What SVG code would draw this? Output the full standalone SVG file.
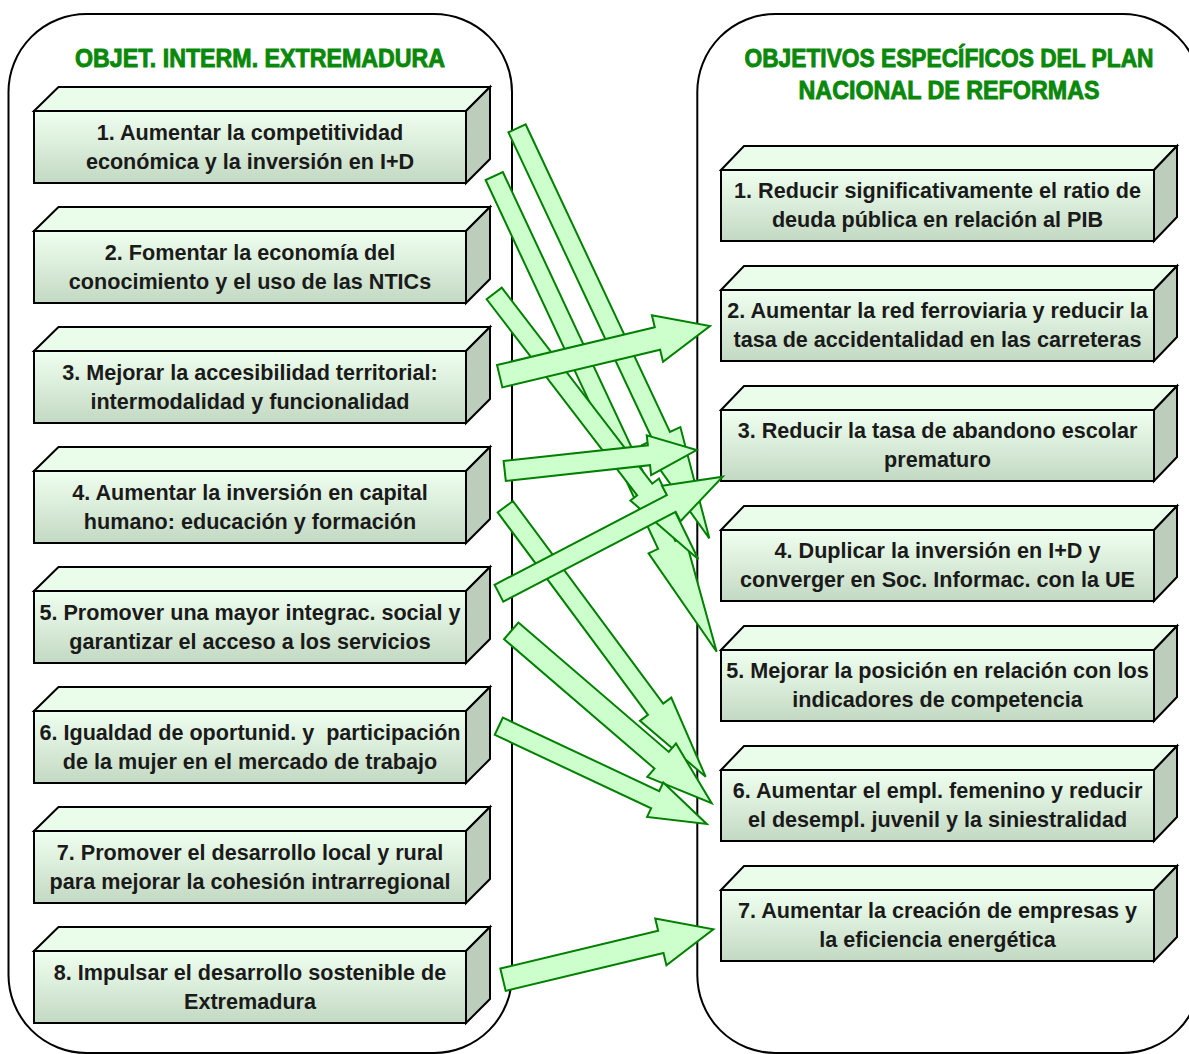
<svg xmlns="http://www.w3.org/2000/svg" xmlns:xlink="http://www.w3.org/1999/xlink" width="1189" height="1054" viewBox="0 0 1189 1054">
<defs>
<linearGradient id="gFront" x1="0" y1="0" x2="0" y2="1">
<stop offset="0" stop-color="#f0fff0"/>
<stop offset="1" stop-color="#c3d9c3"/>
</linearGradient>
<g id="lbox">
<polygon class="top" points="0,0 24.5,-24 456,-24 432,0"/>
<polygon class="side" points="432,0 456,-24 456,48 432,72"/>
<rect class="front" x="0" y="0" width="432" height="72"/>
</g>
<g id="rbox">
<polygon class="top" points="0,0 23,-24 456,-24 433,0"/>
<polygon class="side" points="433,0 456,-24 456,47 433,71"/>
<rect class="front" x="0" y="0" width="433" height="71"/>
</g>
</defs>
<style>
.container{fill:#ffffff;stroke:#000000;stroke-width:2}
.top{fill:#eafcea;stroke:#000000;stroke-width:2;stroke-linejoin:miter}
.side{fill:#bccdbc;stroke:#000000;stroke-width:2}
.front{fill:url(#gFront);stroke:#000000;stroke-width:2}
.title{font-family:"Liberation Sans Narrow","Liberation Sans",Arial,sans-serif;font-weight:bold;font-size:25.5px;fill:#0a880a;stroke:#0a880a;stroke-width:0.9;text-anchor:middle}
.lbl{font-family:"Liberation Sans",Arial,sans-serif;font-weight:bold;font-size:21.6px;fill:#1a1a1a;text-anchor:middle}
.arrow{fill:#ccffcc;stroke:#008000;stroke-width:2;stroke-linejoin:miter}
</style>
<rect width="1189" height="1054" fill="#ffffff"/>
<g id="container-left"><rect class="container" x="8.5" y="14" width="503.5" height="1039" rx="78" ry="78"/></g>
<g id="container-right"><rect class="container" x="697.3" y="14" width="503.5" height="1039" rx="78" ry="78"/></g>
<g id="title-left"><text class="title" x="260" y="66.5" textLength="370" lengthAdjust="spacingAndGlyphs">OBJET. INTERM. EXTREMADURA</text></g>
<g id="title-right">
<text class="title" x="949" y="66.5" textLength="409" lengthAdjust="spacingAndGlyphs">OBJETIVOS ESPECÍFICOS DEL PLAN</text>
<text class="title" x="949" y="99.3" textLength="301" lengthAdjust="spacingAndGlyphs">NACIONAL DE REFORMAS</text>
</g>
<g id="L1"><use href="#lbox" x="34" y="111"/><text class="lbl" x="250" y="140">1. Aumentar la competitividad</text><text class="lbl" x="250" y="169">económica y la inversión en I+D</text></g>
<g id="L2"><use href="#lbox" x="34" y="231"/><text class="lbl" x="250" y="260">2. Fomentar la economía del</text><text class="lbl" x="250" y="289">conocimiento y el uso de las NTICs</text></g>
<g id="L3"><use href="#lbox" x="34" y="351"/><text class="lbl" x="250" y="380">3. Mejorar la accesibilidad territorial:</text><text class="lbl" x="250" y="409">intermodalidad y funcionalidad</text></g>
<g id="L4"><use href="#lbox" x="34" y="471"/><text class="lbl" x="250" y="500">4. Aumentar la inversión en capital</text><text class="lbl" x="250" y="529">humano: educación y formación</text></g>
<g id="L5"><use href="#lbox" x="34" y="591"/><text class="lbl" x="250" y="620">5. Promover una mayor integrac. social y</text><text class="lbl" x="250" y="649">garantizar el acceso a los servicios</text></g>
<g id="L6"><use href="#lbox" x="34" y="711"/><text class="lbl" x="250" y="740" xml:space="preserve">6. Igualdad de oportunid. y  participación</text><text class="lbl" x="250" y="769">de la mujer en el mercado de trabajo</text></g>
<g id="L7"><use href="#lbox" x="34" y="831"/><text class="lbl" x="250" y="860">7. Promover el desarrollo local y rural</text><text class="lbl" x="250" y="889">para mejorar la cohesión intrarregional</text></g>
<g id="L8"><use href="#lbox" x="34" y="951"/><text class="lbl" x="250" y="980">8. Impulsar el desarrollo sostenible de</text><text class="lbl" x="250" y="1009">Extremadura</text></g>
<g id="R1"><use href="#rbox" x="721" y="170"/><text class="lbl" x="937.5" y="198">1. Reducir significativamente el ratio de</text><text class="lbl" x="937.5" y="227">deuda pública en relación al PIB</text></g>
<g id="R2"><use href="#rbox" x="721" y="290"/><text class="lbl" x="937.5" y="318">2. Aumentar la red ferroviaria y reducir la</text><text class="lbl" x="937.5" y="347">tasa de accidentalidad en las carreteras</text></g>
<g id="R3"><use href="#rbox" x="721" y="410"/><text class="lbl" x="937.5" y="438">3. Reducir la tasa de abandono escolar</text><text class="lbl" x="937.5" y="467">prematuro</text></g>
<g id="R4"><use href="#rbox" x="721" y="530"/><text class="lbl" x="937.5" y="558">4. Duplicar la inversión en I+D y</text><text class="lbl" x="937.5" y="587">converger en Soc. Informac. con la UE</text></g>
<g id="R5"><use href="#rbox" x="721" y="650"/><text class="lbl" x="937.5" y="678">5. Mejorar la posición en relación con los</text><text class="lbl" x="937.5" y="707">indicadores de competencia</text></g>
<g id="R6"><use href="#rbox" x="721" y="770"/><text class="lbl" x="937.5" y="798">6. Aumentar el empl. femenino y reducir</text><text class="lbl" x="937.5" y="827">el desempl. juvenil y la siniestralidad</text></g>
<g id="R7"><use href="#rbox" x="721" y="890"/><text class="lbl" x="937.5" y="918">7. Aumentar la creación de empresas y</text><text class="lbl" x="937.5" y="947">la eficiencia energética</text></g>
<g id="connectors">
<path class="arrow" transform="translate(517,128.3) rotate(64.87)" d="M0,-9.5 H339.9 V-21 L452.9,0 L339.9,21 V9.5 H0 Z"/>
<path class="arrow" transform="translate(494.2,176) rotate(64.94)" d="M0,-9.5 H407.2 V-20 L525.2,0 L407.2,20 V9.5 H0 Z"/>
<path class="arrow" transform="translate(494.2,293.5) rotate(52.48)" d="M0,-9.5 H247.1 V-18 L335.1,0 L247.1,18 V9.5 H0 Z"/>
<path class="arrow" transform="translate(505.3,506.7) rotate(53.42)" d="M0,-9.5 H252.2 V-19.5 L336.2,0 L252.2,19.5 V9.5 H0 Z"/>
<path class="arrow" transform="translate(511.2,630.9) rotate(40.69)" d="M0,-11 H198.4 V-22 L264.4,0 L198.4,22 V11 H0 Z"/>
<path class="arrow" transform="translate(498.8,726.2) rotate(25.19)" d="M0,-9.5 H172.8 V-19 L229.8,0 L172.8,19 V9.5 H0 Z"/>
<path class="arrow" transform="translate(499.7,376.2) rotate(-13.43)" d="M0,-11.5 H162.2 V-24 L216.2,0 L162.2,24 V11.5 H0 Z"/>
<path class="arrow" transform="translate(504.7,471) rotate(-6.24)" d="M0,-10 H145.1 V-20 L193.1,0 L145.1,20 V10 H0 Z"/>
<path class="arrow" transform="translate(498.9,593.2) rotate(-27.5)" d="M0,-9.5 H194.3 V-20 L252.3,0 L194.3,20 V9.5 H0 Z"/>
<path class="arrow" transform="translate(503,979.7) rotate(-13.48)" d="M0,-11.5 H162.3 V-24 L216.3,0 L162.3,24 V11.5 H0 Z"/>
</g>
</svg>
